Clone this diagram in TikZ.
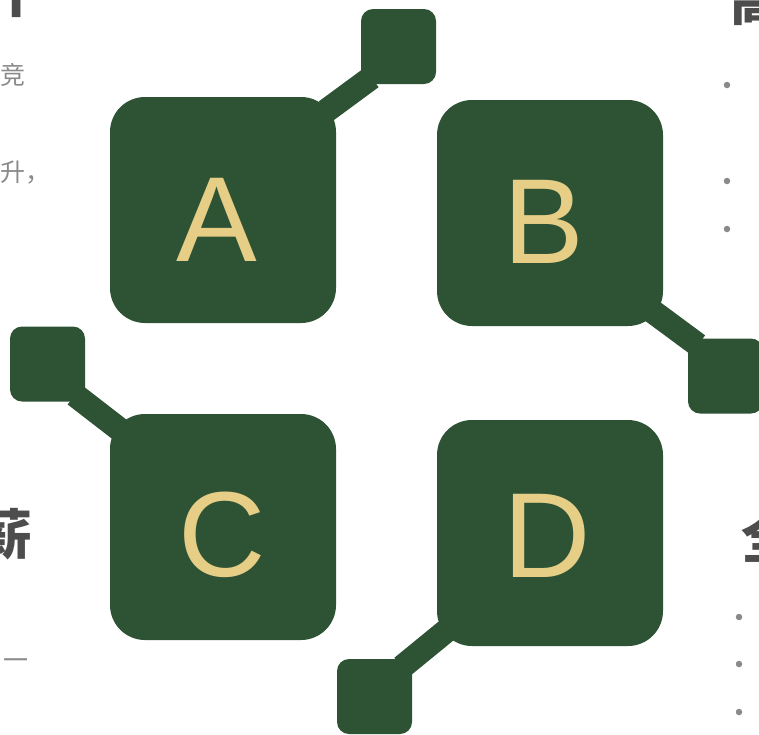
\documentclass[tikz,border=0pt]{standalone}
\usepackage{fontspec}
\setmainfont{Liberation Sans}
\newfontfamily\cjk{Noto Sans CJK SC}
\definecolor{dg}{HTML}{2D5234}
\definecolor{gold}{HTML}{E6CE87}
\definecolor{txt}{HTML}{4D4D4D}
\definecolor{gr}{HTML}{8A8A8A}
\tikzset{
  bigbox/.style={fill=dg, draw=none, rounded corners=35pt, minimum width=226pt, minimum height=226pt, inner sep=0pt, outer sep=0pt},
  smallbox/.style={fill=dg, draw=none, rounded corners=12pt, minimum width=75pt, minimum height=75pt, inner sep=0pt, outer sep=0pt},
  link/.style={draw=dg, line width=24pt},
  letter/.style={text=gold, font=\fontsize{121}{121}\selectfont, inner sep=0pt, anchor=base},
  head/.style={text=txt, font=\cjk\bfseries\fontsize{54}{54}\selectfont, inner sep=0pt},
  body/.style={text=gr, font=\cjk\fontsize{25}{25}\selectfont, inner sep=0pt},
  bullet/.style={circle, fill=gr, draw=none, minimum size=6.5pt, inner sep=0pt}
}
\begin{document}
\begin{tikzpicture}[x=1pt,y=-1pt]
\useasboundingbox (0,0) rectangle (759,734);
\clip (0,0) rectangle (759,734);

% connectors
\coordinate (a1) at (326,111); \coordinate (a2) at (371.5,77.5);
\coordinate (b1) at (652,311); \coordinate (b2) at (698,345);
\coordinate (c1) at (119,429); \coordinate (c2) at (75,395);
\coordinate (d1) at (446,631); \coordinate (d2) at (402,667);
\draw[link] (a1) -- (a2);
\draw[link] (b1) -- (b2);
\draw[link] (c1) -- (c2);
\draw[link] (d1) -- (d2);

% big boxes
\node[bigbox] (boxA) at (223,210) {};
\node[bigbox] (boxB) at (550,213) {};
\node[bigbox] (boxC) at (223,527) {};
\node[bigbox] (boxD) at (550,533) {};

% small squares
\node[smallbox] (sqA) at (398.5,46.5) {};
\node[smallbox] (sqB) at (725.5,376) {};
\node[smallbox] (sqC) at (47.5,364) {};
\node[smallbox] (sqD) at (374.5,696.5) {};

% letters
\node[letter] (lA) at (217,261) {A};
\node[letter] (lB) at (544,263) {B};
\node[letter] (lC) at (222,576) {C};
\node[letter] (lD) at (547,577) {D};

% partial texts at the edges
\node[head] (h1) at (16.5,-8) {十};
\node[body] (t1) at (12.5,75) {竞};
\node[body, anchor=west] (t2) at (0,173) {升，};
\node[head, anchor=east] (h2) at (33,534) {薪};
\node[body] (t3) at (16,664) {一};
\node[head, anchor=west] (h3) at (730,0) {高};
\node[head, anchor=west] (h4) at (741,537) {全};

% bullets
\node[bullet] (p1) at (727,85) {};
\node[bullet] (p2) at (727,181) {};
\node[bullet] (p3) at (727,229) {};
\node[bullet] (p4) at (739,617) {};
\node[bullet] (p5) at (739,664) {};
\node[bullet] (p6) at (739,712) {};
\end{tikzpicture}
\end{document}
